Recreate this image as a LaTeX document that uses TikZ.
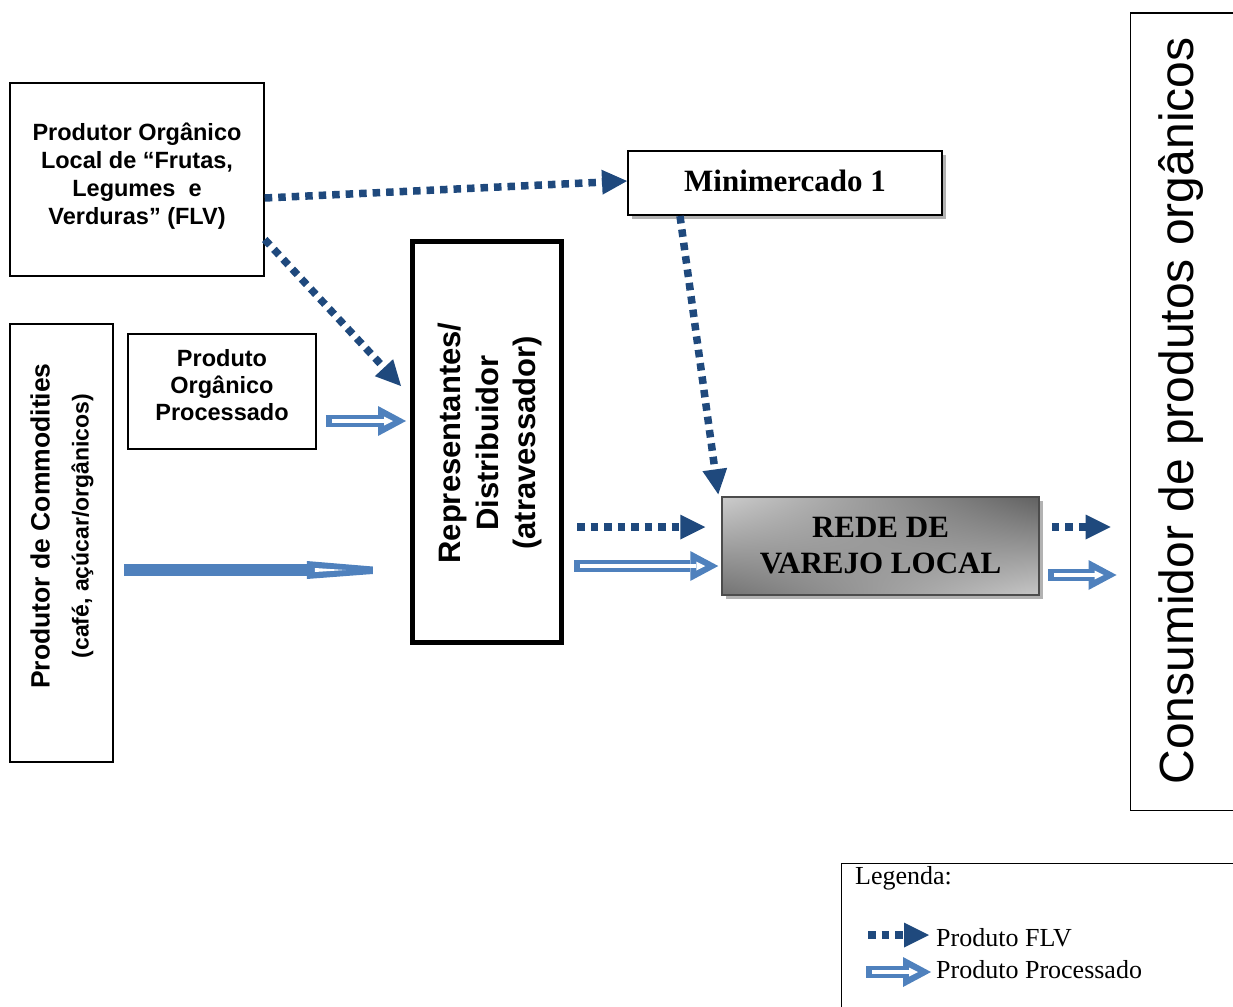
\documentclass[tikz,border=0pt]{standalone}
\usepackage{fontspec}
\setmainfont{Liberation Serif}
\setsansfont{Liberation Sans}
\usetikzlibrary{arrows.meta,shadows,calc,shadings}
\definecolor{flvblue}{RGB}{31,73,125}
\definecolor{procblue}{RGB}{79,129,189}
\begin{document}
\begin{tikzpicture}[x=1pt,y=-1pt,
  box/.style={draw=black, line width=1.5pt, inner sep=0pt, align=center},
  flvarrow/.style={draw=flvblue, line width=7.5pt, dash pattern=on 7.5pt off 6pt,
    -{Triangle[length=25pt,width=25pt,line width=0pt]}},
  procarrow/.style={draw=procblue, line width=12pt,
    -{Triangle[length=28pt,width=30pt,line width=0pt]},
    postaction={draw=white, line width=3.5pt, shorten <=6pt, shorten >=13pt,
      -{Triangle[length=9pt,width=9pt,line width=0pt]}}},
  shadowed/.style={drop shadow={shadow xshift=4pt, shadow yshift=-4pt, fill=black!30, opacity=1}}
]
\useasboundingbox (0,0) rectangle (1233,1006);

% boxes
\node[box, minimum width=254, minimum height=193] (flv) at (137,179.5) {};
\node[align=center, inner sep=0pt, font=\sffamily\bfseries\fontsize{23.5}{28}\selectfont] (flvtext) at (137,176)
  {Produtor Orgânico\\Local de “Frutas,\\Legumes~ e\\Verduras” (FLV)};

\node[box, minimum width=103, minimum height=438] (commod) at (61.5,543) {};
\node[rotate=90, align=center, font=\sffamily\bfseries\fontsize{26.5}{39}\selectfont] (commodtext) at (62,526)
  {Produtor de Commodities\\{\fontsize{23}{39}\selectfont (café, açúcar/orgânicos)}};

\node[box, minimum width=188, minimum height=115] (proc) at (222,391.5) {};
\node[align=center, inner sep=0pt, font=\sffamily\bfseries\fontsize{23.5}{27}\selectfont] (proctext) at (222,385.5)
  {Produto\\Orgânico\\Processado};

\node[box, line width=5pt, minimum width=149, minimum height=401] (rep) at (487,442) {};
\node[rotate=90, align=center, font=\sffamily\bfseries\fontsize{31}{37.5}\selectfont] (reptext) at (490,443)
  {Representantes/\\Distribuidor\\(atravessador)};

\node[box, line width=2pt, minimum width=314, minimum height=64, fill=white, shadowed] (mini) at (785,183) {};
\node[inner sep=0pt, font=\bfseries\fontsize{31}{36}\selectfont] (minitext) at (785,180.5) {Minimercado 1};

\node[box, draw=black!70, minimum width=317, minimum height=98, shadowed,
  upper left=black!20, upper right=black!62, lower left=black!55, lower right=black!22,
  font=\bfseries\fontsize{31}{36}\selectfont] (rede) at (880.5,546) {REDE DE\\VAREJO LOCAL};

\node[draw, line width=1.5pt, inner sep=0pt, minimum width=125, minimum height=797, anchor=north west] (cons) at (1129.5,12.5) {};
\node[rotate=90, font=\sffamily\fontsize{48}{56}\selectfont] (constext) at (1181,411) {Consumidor de produtos orgânicos};

% legend
\node[draw, line width=1pt, inner sep=0pt, minimum width=420, minimum height=170, anchor=north west] (leg) at (840.5,862.5) {};
\node[anchor=west, inner sep=0pt, font=\fontsize{26}{30}\selectfont] (legtitle) at (855,878) {Legenda:};
\node[anchor=west, inner sep=0pt, font=\fontsize{26}{30}\selectfont] (legflv) at (936,938) {Produto FLV};
\node[anchor=west, inner sep=0pt, font=\fontsize{26}{30}\selectfont] (legproc) at (936,970) {Produto Processado};
\coordinate (lf1) at (868,935);
\coordinate (lf2) at (929,935);
\coordinate (lp1) at (866,972);
\coordinate (lp2) at (931,972);
\draw[flvarrow] (lf1) -- (lf2);
\draw[procarrow] (lp1) -- (lp2);

% connectors
\coordinate (repin) at (401,386);
\draw[flvarrow] ([yshift=-18.5pt]flv.east) -- ([yshift=2pt]mini.west);
\draw[flvarrow] ([yshift=-60pt]flv.east) -- (repin);
\coordinate (pa) at ([xshift=9pt,yshift=-29.5pt]proc.east);
\draw[procarrow] (pa) -- ($(pa -| rep.west)+(-4,0)$);

\coordinate (cs) at ([xshift=10pt,yshift=-27pt]commod.east);
\draw[procblue, line width=12pt] (cs) -- ($(cs)+(187,0)$);
\fill[procblue] ($(cs)+(183,-9)$) -- ($(cs)+(249,-3.5)$) -- ($(cs)+(249,4)$) -- ($(cs)+(183,9)$) -- cycle;
\fill[white] ($(cs)+(191,-2)$) -- ($(cs)+(222,0)$) -- ($(cs)+(191,2)$) -- cycle;

\draw[flvarrow] ([xshift=-105pt]mini.south) -- ([xshift=-3pt,yshift=2pt]rede.north west);
\draw[flvarrow] ($(rep.east |- rede.west)+(13,-19)$) -- ($(rede.west)+(-16,-19)$);
\draw[procarrow] ($(rep.east |- rede.west)+(10,20)$) -- ($(rede.west)+(-3,20)$);
\draw[flvarrow] ($(rede.east)+(12,-19)$) -- ($(rede.west -| cons.west)+(-19,-19)$);
\draw[procarrow] ($(rede.east)+(8,29)$) -- ($(rede.west -| cons.west)+(-13,29)$);
\end{tikzpicture}
\end{document}
